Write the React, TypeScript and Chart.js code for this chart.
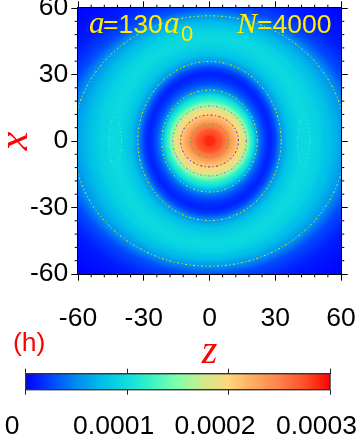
import React, { useEffect, useRef } from "react";
import { Chart, registerables } from "chart.js";
Chart.register(...registerables);

const axisTicks = [-60, -30, 0, 30, 60];
const minorTicks = [-54, -48, -42, -36, -24, -18, -12, -6, 6, 12, 18, 24, 36, 42, 48, 54];
const colorTicks = [0, 0.0001, 0.0002, 0.0003];
const colorTickLabels = ["0", "0.0001", "0.0002", "0.0003"];

// colour map stops
const mapValues = [0, 0.000025, 0.00005, 0.000075, 0.0001, 0.000125, 0.00015, 0.000175, 0.0002, 0.000225, 0.00025, 0.000275, 0.0003];
const mapColors = [
  [0, 0, 255], [0, 70, 255], [0, 140, 240], [0, 190, 232], [15, 222, 222], [60, 245, 195], [130, 255, 170],
  [205, 235, 140], [255, 215, 125], [255, 170, 95], [255, 130, 75], [255, 80, 40], [255, 5, 5],
];

// density levels, with the half-widths of each iso-line along z and along x
const levelRadiusZ = [2, 5.5, 8.6, 13.2, 15, 16.8, 19, 20.3, 21.8, 23.5, 25.5, 27.7, 30, 32.7, 37, 43, 50, 56, 62.2, 68, 76, 90];
const levelRadiusX = [2, 4.8, 7.6, 11.7, 14, 15.8, 18.5, 20.5, 23, 25, 27.5, 30.5, 33, 35.9, 40, 46.5, 50, 53.5, 56.5, 60, 68, 85];
const levelValues = [0.000288, 0.000272, 0.000248, 0.000208, 0.00019, 0.000165, 0.00012, 0.0001, 0.000055, 0.000035, 0.00002, 0.000012, 0.000024, 0.000055, 0.000083, 0.000098, 0.00009, 0.000074, 0.000055, 0.000028, 0.00001, 0];

// field cells, one per screen pixel of the plot
const cellCountZ = 263;
const cellCountX = 266;

// iso-lines drawn on top
const contourLevelIndex = [2, 3, 5, 8, 13, 18];
const contourColors = ["#22d022", "#3030e0", "#d050e0", "#eee022", "#eee022", "#eee022"];
const lobeCentersZ = [-43, 43];
const lobeRadiusZ = 2.8;
const lobeRadiusX = 11.2;
const lobeColor = "#3cf0e0";
const angleSteps = [...Array(145).keys()].map((i) => (i * Math.PI) / 72);

function fieldAt(z: number, x: number) {
  let prev = 2;
  let prevV = levelValues[0];
  for (let k = 0; k < levelValues.length; k++) {
    const s = Math.sqrt((z * z) / levelRadiusZ[k] ** 2 + (x * x) / levelRadiusX[k] ** 2);
    if (s <= 1) {
      if (k === 0) return levelValues[0];
      const t = (prev - 1) / (prev - s);
      return prevV + (levelValues[k] - prevV) * t;
    }
    prev = s;
    prevV = levelValues[k];
  }
  return prevV;
}

function colorFor(v: number) {
  let i = 0;
  while (i < mapValues.length - 2 && v > mapValues[i + 1]) i++;
  const t = Math.max(0, Math.min(1, (v - mapValues[i]) / (mapValues[i + 1] - mapValues[i])));
  const c = mapColors[i].map((a, j) => Math.round(a + (mapColors[i + 1][j] - a) * t));
  return `rgb(${c[0]},${c[1]},${c[2]})`;
}

const SANS = "'Liberation Sans', Arial, sans-serif";
const SERIF = "'Liberation Serif', serif";

const zeroPad = (s: any) => {
  s.paddingLeft = s.paddingRight = s.paddingTop = s.paddingBottom = 0;
};

const mainPlugin = {
  id: "frameAndText",
  afterDraw(chart: any) {
    const { ctx, chartArea: a, scales } = chart;
    ctx.save();
    ctx.strokeStyle = "#000";
    ctx.lineWidth = 1;
    ctx.strokeRect(a.left - 0.5, a.top - 0.5, a.right - a.left + 1, a.bottom - a.top + 1);
    ctx.beginPath();
    for (const v of minorTicks) {
      const px = scales.x.getPixelForValue(v);
      ctx.moveTo(px, a.bottom); ctx.lineTo(px, a.bottom + 3.3);
      ctx.moveTo(px, a.top); ctx.lineTo(px, a.top - 3.3);
      const py = scales.y.getPixelForValue(v);
      ctx.moveTo(a.left, py); ctx.lineTo(a.left - 3.3, py);
      ctx.moveTo(a.right, py); ctx.lineTo(a.right + 3.3, py);
    }
    ctx.stroke();

    ctx.fillStyle = "#ffee00";
    ctx.textAlign = "left";
    ctx.textBaseline = "alphabetic";
    const run = (text: string, font: string, x: number, y: number) => {
      ctx.font = font;
      ctx.fillText(text, x, y);
    };
    run("a", `italic 31px ${SERIF}`, 89, 32.5);
    run("=130", `26.5px ${SANS}`, 103, 32.5);
    run("a", `italic 31px ${SERIF}`, 164, 32.5);
    run("0", `22px ${SANS}`, 181, 41);
    run("N", `italic 30px ${SERIF}`, 237, 32.5);
    run("=4000", `26.5px ${SANS}`, 257, 32.5);

    ctx.fillStyle = "#ff0000";
    run("(h)", `26.5px ${SANS}`, 13, 351);
    ctx.restore();
  },
};

export default function App() {
  const mainRef = useRef<HTMLCanvasElement>(null);
  const barRef = useRef<HTMLCanvasElement>(null);

  useEffect(() => {
    const points: { x: number; y: number }[] = [];
    const colors: string[] = [];
    for (let i = 0; i < cellCountZ; i++) {
      const z = -60 + ((i + 0.5) * 120) / cellCountZ;
      for (let j = 0; j < cellCountX; j++) {
        const x = -60 + ((j + 0.5) * 120) / cellCountX;
        points.push({ x: z, y: x });
        colors.push(colorFor(fieldAt(z, x)));
      }
    }
    const ellipse = (cz: number, rz: number, rx: number) =>
      angleSteps.map((t) => ({ x: cz + rz * Math.cos(t), y: rx * Math.sin(t) }));

    const lineSet = (data: any[], color: string) => ({
      type: "scatter" as const,
      data,
      showLine: true,
      pointRadius: 0,
      borderColor: color,
      borderWidth: 1,
      borderDash: [2, 2.5, 1, 2.5],
      order: 1,
    });

    const tickFont = { family: SANS, size: 26.5 };
    const major = (extra: any) => ({
      type: "linear",
      min: -60,
      max: 60,
      afterBuildTicks: (s: any) => { s.ticks = axisTicks.map((value) => ({ value })); },
      border: { display: false },
      grid: { drawOnChartArea: false, tickLength: 6.7, tickColor: "#000", tickWidth: 1 },
      ...extra,
    });

    const main = new Chart(mainRef.current!, {
      type: "scatter",
      data: {
        datasets: [
          ...contourLevelIndex.map((k, i) => lineSet(ellipse(0, levelRadiusZ[k], levelRadiusX[k]), contourColors[i])),
          ...lobeCentersZ.map((c) => lineSet(ellipse(c, lobeRadiusZ, lobeRadiusX), lobeColor)),
          {
            data: points,
            backgroundColor: colors,
            pointStyle: "rect",
            pointRadius: 0.78,
            pointBorderWidth: 0,
            order: 10,
          },
        ] as any,
      },
      options: {
        animation: false,
        responsive: false,
        events: [],
        layout: { padding: 0 },
        plugins: { legend: { display: false }, tooltip: { enabled: false } },
        scales: {
          x: major({
            position: "bottom",
            afterFit: (s: any) => { s.height = 376 - 274; zeroPad(s); },
            ticks: { color: "#000", font: tickFont, padding: 22, maxRotation: 0, autoSkip: false },
            title: {
              display: true,
              text: "z",
              color: "#ff0000",
              font: { family: SERIF, style: "italic", size: 40 },
              padding: { top: 0, bottom: 0 },
            },
          }),
          x2: major({
            position: "top",
            afterFit: (s: any) => { s.height = 8; zeroPad(s); },
            ticks: { display: false },
          }),
          y: major({
            position: "left",
            afterFit: (s: any) => { s.width = 78; zeroPad(s); },
            ticks: { color: "#000", font: tickFont, padding: 3, autoSkip: false },
            title: {
              display: true,
              text: "x",
              color: "#ff0000",
              font: { family: SERIF, style: "italic", size: 42, lineHeight: 0.75 },
              padding: { top: 0, bottom: 0 },
            },
          }),
          y2: major({
            position: "right",
            afterFit: (s: any) => { s.width = 18; zeroPad(s); },
            ticks: { display: false },
          }),
        } as any,
      },
      plugins: [mainPlugin],
    });

    const segs = [...Array(304).keys()].map((i) => ((i + 1) * 0.0003) / 304);
    const barFrame = {
      id: "barFrame",
      afterDraw(chart: any) {
        const { ctx, chartArea: a } = chart;
        ctx.save();
        ctx.strokeStyle = "#333";
        ctx.lineWidth = 1.4;
        ctx.strokeRect(a.left, a.top, a.right - a.left, a.bottom - a.top);
        ctx.restore();
      },
    };
    const barAxis = (extra: any) => ({
      type: "linear",
      min: 0,
      max: 0.0003,
      afterBuildTicks: (s: any) => { s.ticks = colorTicks.map((value) => ({ value })); },
      border: { display: false },
      grid: { drawOnChartArea: false, tickLength: 5, tickColor: "#222", tickWidth: 1 },
      ...extra,
    });
    const bar = new Chart(barRef.current!, {
      type: "bar",
      data: {
        labels: ["c"],
        datasets: segs.map((v) => ({
          data: [[0, v]] as any,
          backgroundColor: colorFor(v),
          borderWidth: 0,
          grouped: false,
          barPercentage: 1,
          categoryPercentage: 1,
        })) as any,
      },
      options: {
        indexAxis: "y",
        animation: false,
        responsive: false,
        events: [],
        layout: { padding: 0 },
        plugins: { legend: { display: false }, tooltip: { enabled: false } },
        scales: {
          x: barAxis({
            position: "bottom",
            afterFit: (s: any) => { s.height = 437 - 389.7; zeroPad(s); },
            ticks: {
              color: "#000",
              font: tickFont,
              padding: 16,
              labelOffset: -13.5,
              maxRotation: 0,
              autoSkip: false,
              callback: (_: any, i: number) => colorTickLabels[i],
            },
          }),
          x2: barAxis({
            position: "top",
            afterFit: (s: any) => { s.height = 373.7 - 362; zeroPad(s); },
            ticks: { display: false },
          }),
          y: {
            position: "left",
            display: true,
            afterFit: (s: any) => { s.width = 25.7; zeroPad(s); },
            ticks: { display: false },
            grid: { display: false },
            border: { display: false },
          },
          y2: {
            type: "linear",
            position: "right",
            display: true,
            afterFit: (s: any) => { s.width = 359 - 330; zeroPad(s); },
            ticks: { display: false },
            grid: { display: false },
            border: { display: false },
          },
        } as any,
      },
      plugins: [barFrame],
    });

    return () => {
      main.destroy();
      bar.destroy();
    };
  }, []);

  return (
    <div style={{ position: "fixed", left: 0, top: 0, width: 359, height: 437, background: "#fff", overflow: "hidden" }}>
      <canvas ref={mainRef} width={359} height={376} style={{ position: "absolute", left: 0, top: 0 }} />
      <canvas ref={barRef} width={359} height={75} style={{ position: "absolute", left: 0, top: 362 }} />
    </div>
  );
}
